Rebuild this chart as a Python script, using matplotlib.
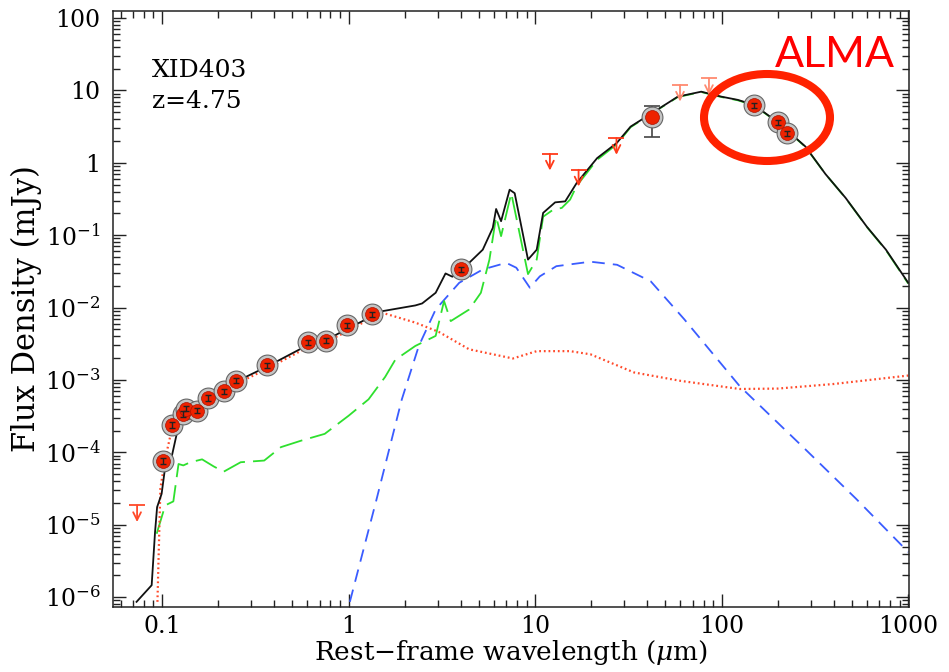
import numpy as np
import matplotlib
matplotlib.use("Agg")
import matplotlib.pyplot as plt
from matplotlib.patches import Ellipse
from matplotlib.ticker import LogLocator, FixedLocator, FuncFormatter, NullFormatter

plt.rcParams.update({"font.family": "DejaVu Serif", "mathtext.fontset": "dejavuserif"})

# total model (black)
tot_wl = [0.073, 0.088, 0.0917, 0.0941, 0.0995, 0.104, 0.113, 0.1226, 0.135, 0.16, 0.18,
          0.21, 0.25, 0.36, 0.6, 0.75, 1.0, 1.3, 1.51, 2.28, 2.48, 2.93, 3.31, 3.6, 4.03,
          4.43, 5.24, 5.93, 6.18, 6.57, 7.30, 7.77, 9.16, 10.2, 11.04, 12.8, 14.5, 16.7,
          21.5, 27.4, 32.5, 42.2, 58.2, 77.7, 99.6, 122, 149, 200, 281, 360, 462, 600, 760, 1000]
tot_f = [8.6e-7, 1.46e-6, 7.8e-6, 1.75e-5, 2.67e-5, 6.3e-5, 9.0e-5, 2.33e-4, 3.6e-4, 4.1e-4, 5.5e-4,
         6.9e-4, 9.5e-4, 1.5e-3, 3.0e-3, 3.5e-3, 5.2e-3, 7.3e-3, 8.9e-3, 1.07e-2, 1.14e-2, 1.6e-2, 2.96e-2, 2.67e-2, 3.36e-2,
         4.15e-2, 6.3e-2, 0.126, 0.23, 0.156, 0.425, 0.38, 0.046, 0.063, 0.203, 0.284, 0.293, 0.525,
         1.16, 1.88, 3.16, 4.84, 8.2, 9.6, 8.2, 7.4, 6.3, 3.63, 1.68, 0.70, 0.327, 0.131, 0.063, 0.022]

# starburst component (green long dash)
sb_wl = [0.0936, 0.104, 0.115, 0.1226, 0.13, 0.142, 0.164, 0.189, 0.214, 0.264, 0.353, 0.434,
         0.557, 0.745, 1.0, 1.28, 1.57, 1.78, 2.28, 2.93, 3.25, 3.53, 4.43, 5.12, 5.69, 6.18,
         6.57, 7.45, 9.16, 10.2, 11.04, 12.5, 13.9, 15.4, 16.7, 21.5, 27.4, 32.5, 42.2, 58.2,
         77.7, 99.6, 122, 149, 200, 281, 360, 462, 600, 760, 1000]
sb_f = [7.5e-6, 1.85e-5, 2.1e-5, 6.9e-5, 6.6e-5, 7.3e-5, 8.0e-5, 6.4e-5, 5.4e-5, 7.3e-5, 7.7e-5, 1.18e-4,
        1.45e-4, 1.8e-4, 3.2e-4, 5.4e-4, 1.1e-3, 1.9e-3, 2.95e-3, 4.06e-3, 1.23e-2, 6.5e-3, 9.4e-3, 1.6e-2, 4.6e-2, 0.18,
        0.097, 0.38, 0.029, 0.046, 0.18, 0.225, 0.238, 0.31, 0.48, 1.1, 1.8, 3.1, 4.8, 8.1,
        9.5, 8.1, 7.3, 6.2, 3.6, 1.66, 0.70, 0.325, 0.13, 0.062, 0.0215]

# AGN torus component (blue dash)
agn_wl = [1.016, 1.40, 1.93, 2.38, 2.93, 3.92, 5.24, 7.0, 7.93, 9.37, 10.6, 13.0, 19.8, 27.5,
          41.7, 63.0, 125, 281, 524, 1000]
agn_f = [8.6e-7, 2.05e-5, 5.4e-4, 2.95e-3, 9.4e-3, 2.2e-2, 3.36e-2, 4.15e-2, 3.55e-2, 1.88e-2, 2.7e-2, 3.73e-2, 4.3e-2, 3.9e-2,
         2.3e-2, 6.9e-3, 8.2e-4, 1.1e-4, 2.3e-5, 4.2e-6]

# stellar component (red dotted)
st_wl = [0.0945, 0.098, 0.104, 0.1129, 0.125, 0.135, 0.16, 0.18, 0.21, 0.25, 0.36, 0.6, 0.75,
         1.0, 1.3, 1.51, 2.28, 3.05, 4.43, 7.6, 10.2, 15.4, 19.8, 33.9, 60.4, 125, 200, 400, 1000]
st_f = [8.6e-7, 3.2e-5, 8.1e-5, 2.1e-4, 2.6e-4, 3.3e-4, 3.9e-4, 5.2e-4, 6.5e-4, 8.8e-4, 1.4e-3, 2.8e-3, 3.3e-3,
        4.8e-3, 7.0e-3, 8.5e-3, 6.2e-3, 4.6e-3, 2.65e-3, 1.98e-3, 2.5e-3, 2.5e-3, 2.26e-3, 1.27e-3, 9.7e-4, 7.5e-4, 7.6e-4, 8.8e-4, 1.15e-3]

# photometry
phot_wl = [0.101, 0.113, 0.130, 0.135, 0.154, 0.177, 0.214, 0.248, 0.365, 0.608, 0.76, 0.975, 1.33,
           4.03, 42.2, 149, 200, 224]
phot_f = [7.7e-5, 2.4e-4, 3.4e-4, 4.0e-4, 3.75e-4, 5.7e-4, 6.95e-4, 9.8e-4, 1.6e-3, 3.3e-3, 3.5e-3, 5.7e-3, 8.1e-3,
          3.36e-2, 4.26, 6.3, 3.63, 2.57]
phot_lo = [0.7e-5, 0.2e-4, 0.3e-4, 0.3e-4, 0.3e-4, 0.5e-4, 0.6e-4, 0.8e-4, 1.2e-4, 2.5e-4, 2.5e-4, 4e-4, 6e-4,
           2.5e-3, 1.96, 0.5, 0.3, 0.2]
phot_hi = [0.7e-5, 0.2e-4, 0.3e-4, 0.3e-4, 0.3e-4, 0.5e-4, 0.6e-4, 0.8e-4, 1.2e-4, 2.5e-4, 2.5e-4, 4e-4, 6e-4,
           2.5e-3, 1.84, 0.5, 0.3, 0.2]

# upper limits
ul_wl = [0.0735, 12.0, 17.1, 27.3, 59.8, 85.5]
ul_f = [1.85e-5, 1.33, 0.80, 2.19, 11.9, 14.7]
ul_col = ["#ff4a2a", "#ff3a1a", "#ff3a1a", "#ff3a1a", "#ff8a70", "#ff8a70"]

x_ticks = [0.1, 1, 10, 100, 1000]
y_ticks = [1e-6, 1e-5, 1e-4, 1e-3, 1e-2, 1e-1, 1, 10, 100]

fig = plt.figure(figsize=(9.49, 6.72), dpi=100)
ax = fig.add_axes([113/949, 1-607/672, 796/949, 596/672])
ax.set_xscale("log"); ax.set_yscale("log")
ax.set_xlim(0.0546, 1010); ax.set_ylim(7.3e-7, 125)

ax.plot(agn_wl, agn_f, color="#3a5cff", lw=1.3, dashes=(7, 4.5))
ax.plot(sb_wl, sb_f, color="#2ee02e", lw=1.3, dashes=(13, 4.5))
ax.plot(st_wl, st_f, color="#ff4a2a", lw=1.6, dashes=(0.8, 1.3))
ax.plot(tot_wl, tot_f, color="#111111", lw=1.3)

ax.errorbar(phot_wl, phot_f, yerr=[phot_lo, phot_hi], fmt="none", ecolor="#444444",
            elinewidth=1.2, capsize=6, capthick=1.2, zorder=3)
ax.plot(phot_wl, phot_f, "o", ms=15, mfc="#c4c4c4", mec="#666666", mew=0.8, zorder=4)
ax.plot(phot_wl, phot_f, "o", ms=10, mfc="#ee2200", mec="#aa1100", mew=0.5, zorder=5)
ax.errorbar(phot_wl[:14] + phot_wl[15:], phot_f[:14] + phot_f[15:],
            yerr=[phot_lo[:14] + phot_lo[15:], phot_hi[:14] + phot_hi[15:]],
            fmt="none", ecolor="#222222", elinewidth=1.0, capsize=2, zorder=6)

for x, y, c in zip(ul_wl, ul_f, ul_col):
    ax.plot([x], [y], marker="_", ms=11, mew=1.3, color=c)
    ax.annotate("", xy=(x, y / 10**0.23), xytext=(x, y),
                arrowprops=dict(arrowstyle="->", color=c, lw=1.3, mutation_scale=14,
                                shrinkA=0, shrinkB=0))

ax.text(0.049, 0.889, "XID403", transform=ax.transAxes, fontsize=18, va="baseline")
ax.text(0.049, 0.837, "z=4.75", transform=ax.transAxes, fontsize=18, va="baseline")

ax.xaxis.set_major_locator(FixedLocator(x_ticks))
ax.xaxis.set_minor_locator(LogLocator(base=10, subs=np.arange(2, 10), numticks=20))
ax.yaxis.set_major_locator(FixedLocator(y_ticks))
ax.yaxis.set_minor_locator(LogLocator(base=10, subs=np.arange(2, 10), numticks=40))
ax.xaxis.set_major_formatter(FuncFormatter(lambda v, p: f"{v:g}"))
def yfmt(v, p):
    e = int(round(np.log10(v)))
    return str(int(round(v))) if e >= 0 else r"$10^{%d}$" % e
ax.yaxis.set_major_formatter(FuncFormatter(yfmt))
ax.xaxis.set_minor_formatter(NullFormatter()); ax.yaxis.set_minor_formatter(NullFormatter())
ax.tick_params(which="both", direction="in", top=True, right=True, labelsize=17, width=1.0, color="#222222")
ax.tick_params(which="major", length=9.5)
ax.tick_params(which="minor", length=4.8)
ax.tick_params(axis="y", pad=9)
ax.tick_params(axis="x", pad=6)
for s in ax.spines.values():
    s.set_linewidth(1.1); s.set_color("#222222")

ax.set_xlabel(r"Rest$-$frame wavelength ($\mu$m)", fontsize=19, labelpad=0)
ax.set_ylabel("Flux Density (mJy)", fontsize=22, labelpad=2)

fig.patches.append(Ellipse((767/949, 1-117.5/672), 126/949, 87/672, transform=fig.transFigure,
                           fill=False, ec="#ff2200", lw=5.8, zorder=10))
fig.text(835/949, 1-67/672, "ALMA", color="#ff0000", fontsize=31, family="Lato",
         ha="center", va="baseline")

fig.savefig("out.png", dpi=100)
